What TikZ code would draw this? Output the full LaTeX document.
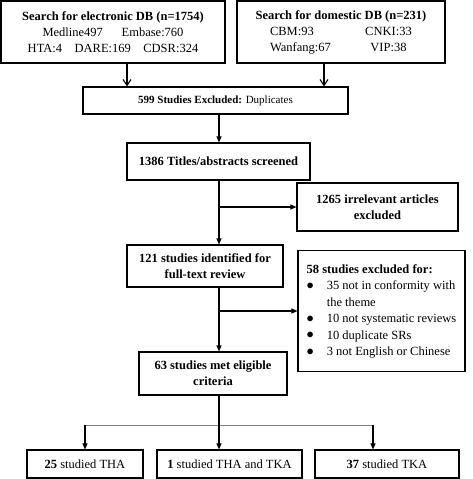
\documentclass[tikz,border=0pt]{standalone}
\usepackage{fontspec}
\setmainfont{Liberation Serif}
\usetikzlibrary{arrows.meta}
\newcommand{\blt}{\raisebox{0.5pt}{\fontsize{14}{14}\selectfont$\bullet$}}

\begin{document}
\begin{tikzpicture}[x=1pt, y=-1pt,
    box/.style={draw, line width=1.1pt, align=center, inner sep=2pt,
        font=\fontsize{12.5}{16}\selectfont},
    arr/.style={line width=1.1pt, -{Triangle[length=6pt,width=5pt]}},
    barb/.style={line width=1.1pt, -{Straight Barb[length=6pt,width=8pt]}}]
\useasboundingbox (0,0) rectangle (473,479);

% Searches
\node[box, minimum width=224, minimum height=62] (elec) at (113,32)
    {\textbf{Search for electronic DB (n=1754)}\\
     Medline497\hspace{1.5em}Embase:760\\
     HTA:4\hspace{1em}DARE:169\hspace{1em}CDSR:324};
\node[box, minimum width=208, minimum height=62] (dom) at (341,32)
    {\textbf{Search for domestic DB (n=231)}\\
     \makebox[95pt][l]{CBM:93}\makebox[47pt][c]{CNKI:33}\\
     \makebox[95pt][l]{Wanfang:67}\makebox[47pt][c]{VIP:38}};

% Screening
\node[box, minimum width=265, minimum height=27,
    font=\fontsize{11}{14}\selectfont] (dup) at (215.5,100.5)
    {\textbf{599 Studies Excluded:} Duplicates};
\node[box, minimum width=183, minimum height=37] (screen) at (218.5,161.5)
    {\textbf{1386 Titles/abstracts screened}};
\node[box, minimum width=161, minimum height=48] (irrel) at (377.5,207)
    {\textbf{1265 irrelevant articles}\\ \textbf{excluded}};
\node[box, minimum width=156, minimum height=42] (full) at (205,266)
    {\textbf{121 studies identified for}\\ \textbf{full-text review}};
\node[box, minimum width=167, minimum height=121,
    font=\fontsize{12.5}{16.5}\selectfont] (excl) at (381.5,311)
    {\begin{tabular}{@{}l@{\hspace{13pt}}l@{}}
     \multicolumn{2}{@{}l@{}}{\textbf{58 studies excluded for:}}\\
     \blt & 35 not in conformity with\\
     & the theme\\
     \blt & 10 not systematic reviews\\
     \blt & 10 duplicate SRs\\
     \blt & 3 not English or Chinese
     \end{tabular}};
\node[box, minimum width=148, minimum height=43] (elig) at (213,373.5)
    {\textbf{63 studies met eligible}\\ \textbf{criteria}};

% Included
\node[box, minimum width=116, minimum height=28] (tha) at (85,464)
    {\textbf{25} studied THA};
\node[box, minimum width=145, minimum height=28] (both) at (229.5,464)
    {\textbf{1} studied THA and TKA};
\node[box, minimum width=144, minimum height=28] (tka) at (387,464)
    {\textbf{37} studied TKA};

% Flow
\coordinate (spine) at (219,0);
\coordinate (split) at (0,425);
\draw[barb] ([xshift=14pt]elec.south) -- ([xshift=14pt]elec.south |- dup.north);
\draw[barb] ([xshift=-17pt]dom.south) -- ([xshift=-17pt]dom.south |- dup.north);
\draw[arr] (spine |- dup.south) -- (spine |- screen.north);
\draw[arr] (spine |- screen.south) -- (spine |- full.north);
\draw[arr] (spine |- irrel.west) -- (irrel.west);
\draw[arr] (spine |- full.south) -- (spine |- elig.north);
\draw[arr] (spine |- excl.west) -- (excl.west);
\draw[line width=1.1pt] (spine |- elig.south) -- (spine |- split);
\draw[line width=0.8pt, gray] (tha.north |- split) -- ([xshift=-14pt]tka.north |- split);
\draw[arr] (tha.north |- split) -- (tha.north);
\draw[arr] (spine |- split) -- (spine |- both.north);
\draw[arr] ([xshift=-14pt]tka.north |- split) -- ([xshift=-14pt]tka.north);
\end{tikzpicture}
\end{document}
